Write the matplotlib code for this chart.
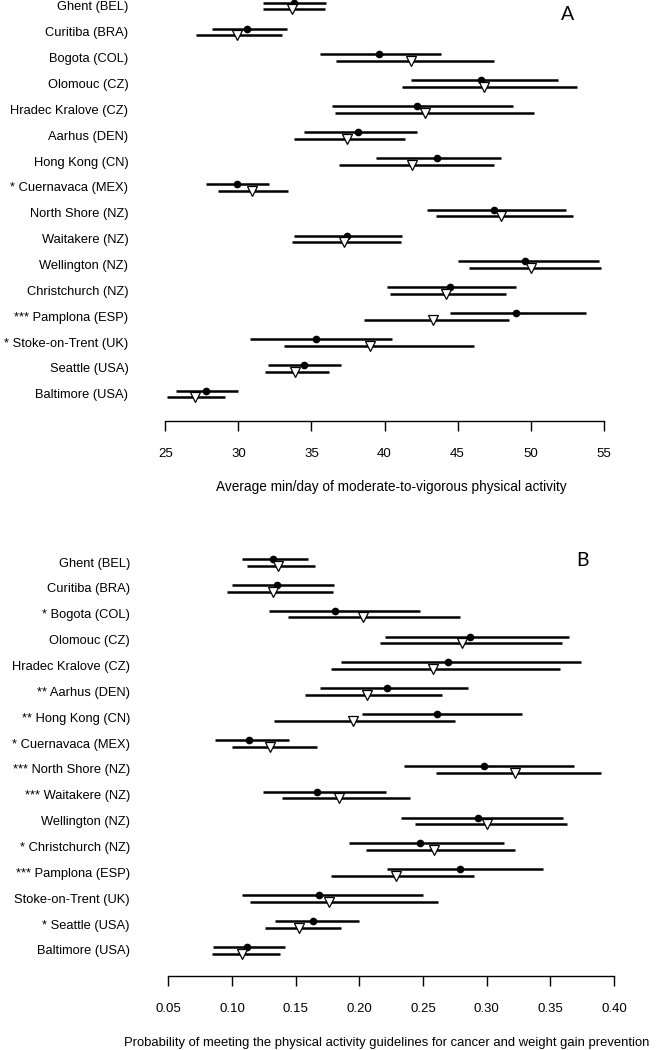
import matplotlib
matplotlib.use("Agg")
import matplotlib.pyplot as plt
import numpy as np

plt.rcParams['font.family'] = ['Liberation Sans', 'DejaVu Sans']

# Panel A - average min/day of MVPA
cities_a = ["Ghent (BEL)", "Curitiba (BRA)", "Bogota (COL)", "Olomouc (CZ)",
            "Hradec Kralove (CZ)", "Aarhus (DEN)", "Hong Kong (CN)",
            "* Cuernavaca (MEX)", "North Shore (NZ)", "Waitakere (NZ)",
            "Wellington (NZ)", "Christchurch (NZ)", "*** Pamplona (ESP)",
            "* Stoke-on-Trent (UK)", "Seattle (USA)", "Baltimore (USA)"]
a_circ = [33.8, 30.6, 39.6, 46.6, 42.2, 38.2, 43.6, 29.9, 47.5, 37.4, 49.6, 44.5, 49.0, 35.3, 34.5, 27.8]
a_circ_lo = [31.7, 28.2, 35.6, 41.8, 36.4, 34.5, 39.4, 27.8, 42.9, 33.8, 45.0, 40.2, 44.5, 30.8, 32.0, 25.7]
a_circ_hi = [36.0, 33.3, 43.9, 51.9, 48.8, 42.2, 48.0, 32.1, 52.4, 41.2, 54.7, 49.0, 53.8, 40.5, 37.0, 30.0]
a_tri = [33.7, 29.9, 41.8, 46.8, 42.8, 37.4, 41.9, 30.9, 48.0, 37.2, 50.0, 44.2, 43.3, 39.0, 33.9, 27.0]
a_tri_lo = [31.7, 27.1, 36.7, 41.2, 36.6, 33.8, 36.9, 28.6, 43.5, 33.7, 45.8, 40.4, 38.6, 33.1, 31.8, 25.1]
a_tri_hi = [35.9, 33.0, 47.5, 53.2, 50.2, 41.4, 47.5, 33.4, 52.9, 41.1, 54.8, 48.3, 48.5, 46.1, 36.2, 29.1]
ticks_a = [25, 30, 35, 40, 45, 50, 55]

# Panel B - probability of meeting guidelines
cities_b = ["Ghent (BEL)", "Curitiba (BRA)", "* Bogota (COL)", "Olomouc (CZ)",
            "Hradec Kralove (CZ)", "** Aarhus (DEN)", "** Hong Kong (CN)",
            "* Cuernavaca (MEX)", "*** North Shore (NZ)", "*** Waitakere (NZ)",
            "Wellington (NZ)", "* Christchurch (NZ)", "*** Pamplona (ESP)",
            "Stoke-on-Trent (UK)", "* Seattle (USA)", "Baltimore (USA)"]
b_circ = [0.132, 0.135, 0.181, 0.287, 0.270, 0.222, 0.261, 0.113, 0.298, 0.167, 0.293, 0.248, 0.279, 0.168, 0.164, 0.112]
b_circ_lo = [0.108, 0.100, 0.129, 0.220, 0.186, 0.169, 0.202, 0.087, 0.235, 0.124, 0.233, 0.192, 0.222, 0.108, 0.134, 0.085]
b_circ_hi = [0.160, 0.180, 0.248, 0.365, 0.374, 0.285, 0.328, 0.145, 0.369, 0.221, 0.360, 0.314, 0.344, 0.250, 0.200, 0.142]
b_tri = [0.136, 0.132, 0.203, 0.281, 0.258, 0.206, 0.195, 0.130, 0.322, 0.184, 0.300, 0.259, 0.229, 0.176, 0.153, 0.108]
b_tri_lo = [0.112, 0.096, 0.144, 0.216, 0.178, 0.157, 0.133, 0.100, 0.260, 0.139, 0.244, 0.205, 0.178, 0.114, 0.126, 0.084]
b_tri_hi = [0.165, 0.179, 0.279, 0.359, 0.358, 0.265, 0.275, 0.167, 0.390, 0.240, 0.363, 0.322, 0.290, 0.262, 0.186, 0.138]
ticks_b = [0.05, 0.10, 0.15, 0.20, 0.25, 0.30, 0.35, 0.40]


def forest(ax, labels, circ, clo, chi, tri, tlo, thi, ticks, tick_fmt, label_pad):
    rows = np.arange(len(labels))
    off = 0.26  # second estimate sits a bit lower
    ax.hlines(rows, clo, chi, color='black', lw=1.8)
    ax.hlines(rows + off, tlo, thi, color='black', lw=1.8)
    ax.plot(circ, rows, 'o', color='black', ms=4.5, clip_on=False, zorder=3)
    ax.plot(tri, rows + off, 'v', mfc='white', mec='black', mew=0.9, ms=7,
            clip_on=False, zorder=3)
    ax.set_yticks(rows + 0.12)
    ax.set_yticklabels(labels, fontsize=9.3)
    ax.tick_params(axis='y', length=0, pad=label_pad)
    ax.set_xticks(ticks)
    ax.set_xticklabels([tick_fmt.format(t) for t in ticks], fontsize=9.5)
    ax.tick_params(axis='x', direction='out', length=7.2, width=1, pad=12)
    for s in ['top', 'right', 'left']:
        ax.spines[s].set_visible(False)
    ax.spines['bottom'].set_bounds(ticks[0], ticks[-1])
    ax.spines['bottom'].set_linewidth(1)


fig = plt.figure(figsize=(6.6, 10.5), dpi=100)

axA = fig.add_axes([150.7 / 660, 1 - 421 / 1050, 467.6 / 660, 421 / 1050])
forest(axA, cities_a, a_circ, a_circ_lo, a_circ_hi, a_tri, a_tri_lo, a_tri_hi,
       ticks_a, "{:g}", 16)
axA.set_xlim(24, 56)
axA.set_ylim(16.17, -0.104)

axB = fig.add_axes([155.6 / 660, 1 - 976 / 1050, 471.1 / 660, 431 / 1050])
forest(axB, cities_b, b_circ, b_circ_lo, b_circ_hi, b_tri, b_tri_lo, b_tri_hi,
       ticks_b, "{:.2f}", 18.5)
axB.set_xlim(0.04, 0.41)
axB.set_ylim(16.13, -0.54)

fig.text(391 / 660, 1 - 487 / 1050, "Average min/day of moderate-to-vigorous physical activity",
         ha='center', va='center', fontsize=9.8)
fig.text(387 / 660, 1 - 1043 / 1050,
         "Probability of meeting the physical activity guidelines for cancer and weight gain prevention",
         ha='center', va='center', fontsize=9.4)

fig.text(568 / 660, 1 - 15 / 1050, "A", family='Lato', fontsize=14, ha='center', va='center')
fig.text(583 / 660, 1 - 561 / 1050, "B", family='Lato', fontsize=14, ha='center', va='center')

fig.savefig("out.png", dpi=100)
